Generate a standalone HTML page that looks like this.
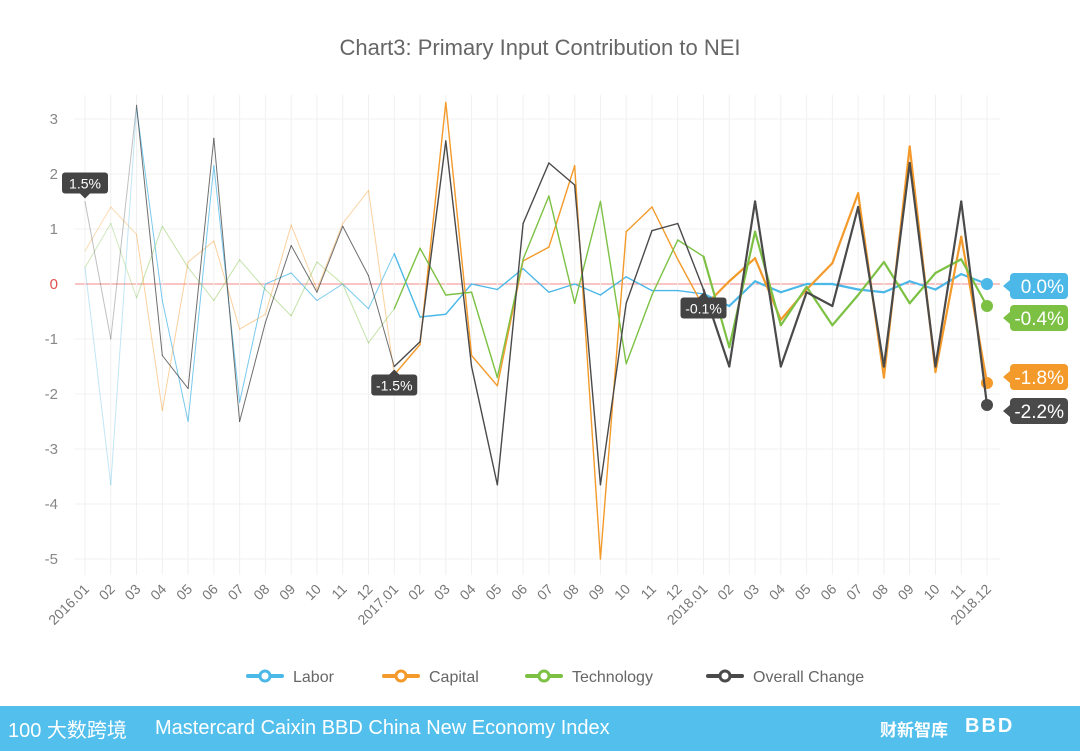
<!DOCTYPE html>
<html><head><meta charset="utf-8">
<style>
html,body{margin:0;padding:0;background:#fff;}
body{width:1080px;height:751px;overflow:hidden;position:relative;font-family:"Liberation Sans","Noto Sans CJK SC",sans-serif;}
#banner{position:absolute;left:0;top:706px;width:1080px;height:45px;background:#52bfec;}
</style></head>
<body>
<svg id="chart" width="1080" height="706" style="position:absolute;left:0;top:0" xmlns="http://www.w3.org/2000/svg"></svg>
<div id="banner">
  <div style="position:absolute;left:8px;top:8px;color:#fff;font-size:20px;font-family:'Liberation Sans','Noto Sans CJK SC',sans-serif;">100 大数跨境</div>
  <div style="position:absolute;left:155px;top:11px;color:#fff;font-size:20px;">Mastercard Caixin BBD China New Economy Index</div>
  <div style="position:absolute;left:880px;top:10px;color:#fff;font-size:17px;font-weight:bold;font-family:'Liberation Sans','Noto Sans CJK SC',sans-serif;">财新智库</div>
  <div style="position:absolute;left:965px;top:9px;color:#fff;font-size:20px;font-weight:bold;letter-spacing:2px;">BBD</div>
</div>
<script>
const categories = ["2016.01","02","03","04","05","06","07","08","09","10","11","12","2017.01","02","03","04","05","06","07","08","09","10","11","12","2018.01","02","03","04","05","06","07","08","09","10","11","2018.12"];
const labor = [0.3,-3.65,3.2,-0.3,-2.5,2.15,-2.15,0.0,0.2,-0.3,0.0,-0.45,0.55,-0.6,-0.55,0.0,-0.1,0.28,-0.15,0.0,-0.2,0.13,-0.12,-0.12,-0.18,-0.4,0.05,-0.15,0.0,0.0,-0.1,-0.15,0.05,-0.1,0.18,0.0];
const capital = [0.6,1.4,0.9,-2.3,0.4,0.78,-0.82,-0.55,1.07,-0.1,1.1,1.7,-1.65,-1.1,3.3,-1.3,-1.85,0.42,0.67,2.15,-5.0,0.95,1.4,0.45,-0.42,0.05,0.47,-0.65,-0.1,0.38,1.65,-1.7,2.5,-1.6,0.86,-1.8];
const technology = [0.3,1.1,-0.25,1.05,0.3,-0.3,0.44,-0.1,-0.58,0.4,0.0,-1.07,-0.45,0.65,-0.2,-0.15,-1.7,0.45,1.6,-0.35,1.5,-1.45,-0.2,0.8,0.5,-1.15,0.95,-0.75,-0.05,-0.75,-0.2,0.4,-0.35,0.2,0.45,-0.4];
const overall = [1.5,-1.0,3.25,-1.3,-1.9,2.65,-2.5,-0.7,0.7,-0.15,1.05,0.15,-1.5,-1.05,2.6,-1.5,-3.65,1.1,2.2,1.8,-3.65,-0.35,0.97,1.1,-0.1,-1.5,1.5,-1.5,-0.15,-0.4,1.4,-1.5,2.2,-1.5,1.5,-2.2];
const yTicks = [3,2,1,0,-1,-2,-3,-4,-5];
const seriesNames = ["Labor","Capital","Technology","Overall Change"];

const NS="http://www.w3.org/2000/svg";
const svg=document.getElementById('chart');
const X0=85, X1=987, Y0=284, PX=55;
function xs(i){return X0+(X1-X0)*i/(categories.length-1);}
function ys(v){return Y0-v*PX;}
function mk(tag,attrs,parent){const e=document.createElementNS(NS,tag);for(const k in attrs)e.setAttribute(k,attrs[k]);(parent||svg).appendChild(e);return e;}

let t=mk('text',{x:540,y:55,'text-anchor':'middle','font-size':22,fill:'#666','font-family':'Liberation Sans, sans-serif'});
t.textContent="Chart3: Primary Input Contribution to NEI";



yTicks.forEach(v=>{
  const l=mk('line',{x1:75,x2:1000,y1:ys(v),y2:ys(v),stroke:v===0?'#f08a8a':'#f2f2f2','stroke-width':1});
  
  
  const tx=mk('text',{x:58,y:ys(v)+5,'text-anchor':'end','font-size':15,fill:v===0?'#e05050':'#888'});
  tx.textContent=v;
  
  
});
categories.forEach((c,i)=>{
  const l=mk('line',{x1:xs(i),x2:xs(i),y1:95,y2:575,stroke:'#f0f0f0','stroke-width':1});
  
  
  const tx=mk('text',{x:xs(i)+5,y:590,'text-anchor':'end','font-size':14,fill:'#777',transform:`rotate(-45 ${xs(i)+5} 590)`});
  tx.textContent=c;
  
  
});

const colors=['#4cb8e8','#f39a2b','#7cc144','#4a4a4a'];
const data=[labor,capital,technology,overall];
const fadeOp=[0.75,0.45,0.45,0.8];
data.forEach((arr,s)=>{
  const g=mk('g',{});
  
  
  for(let i=0;i<arr.length-1;i++){
    let w=1.2,op=1;
    if(i<12){op=i<2?0.35:fadeOp[s];w=1;}
    else if(i>=24){w=2.2;}
    else {w=1.4;}
    const l=mk('line',{x1:xs(i),y1:ys(arr[i]),x2:xs(i+1),y2:ys(arr[i+1]),stroke:colors[s],'stroke-width':w,'stroke-opacity':op,'stroke-linecap':'round'},g);
    
    
  }
  const n=arr.length-1;
  const c=mk('circle',{cx:xs(n),cy:ys(arr[n]),r:6,fill:colors[s]},g);
  
  
});

function callout(i,v,above,label,name){
  const x=xs(i), y=ys(v);
  const g=mk('g',{});
  
  
  const w=46,h=21;
  const by=above? y-h-8 : y+8;
  mk('rect',{x:x-w/2,y:by,width:w,height:h,rx:3,fill:'#444'},g);
  if(above) mk('path',{d:`M${x-5},${by+h} L${x},${by+h+5} L${x+5},${by+h}Z`,fill:'#444'},g);
  else mk('path',{d:`M${x-5},${by} L${x},${by-5} L${x+5},${by}Z`,fill:'#444'},g);
  const tx=mk('text',{x:x,y:by+16,'text-anchor':'middle','font-size':14,fill:'#fff'},g);
  tx.textContent=label;
}
callout(0,overall[0],true,'1.5%','callout-2016');
callout(12,overall[12],false,'-1.5%','callout-2017');
callout(24,overall[24],false,'-0.1%','callout-2018');

// end labels: order top->bottom = labor, technology, capital, overall
const endOrder=[0,2,1,3];
const endY=[286,318,377,411];
const endTxt=['0.0%','-0.4%','-1.8%','-2.2%'];
endY.forEach((y,k)=>{
  const s=endOrder[k];
  const g=mk('g',{});
  
  
  mk('rect',{x:1010,y:y-13,width:58,height:26,rx:4,fill:colors[s]},g);
  mk('path',{d:`M1010,${y-6} L1003,${y} L1010,${y+6}Z`,fill:colors[s]},g);
  const tx=mk('text',{x:1064,y:y+7,'text-anchor':'end','font-size':19,fill:'#fff'},g);
  tx.textContent=endTxt[k];
});

const legX=[248,384,527,708];
seriesNames.forEach((n,s)=>{
  const g=mk('g',{});
  
  
  mk('line',{x1:legX[s],x2:legX[s]+34,y1:676,y2:676,stroke:colors[s],'stroke-width':4,'stroke-linecap':'round'},g);
  mk('circle',{cx:legX[s]+17,cy:676,r:5,fill:'#fff',stroke:colors[s],'stroke-width':3},g);
  const tx=mk('text',{x:legX[s]+45,y:682,'font-size':16,fill:'#666'},g);
  tx.textContent=n;
});
</script>
</body></html>
